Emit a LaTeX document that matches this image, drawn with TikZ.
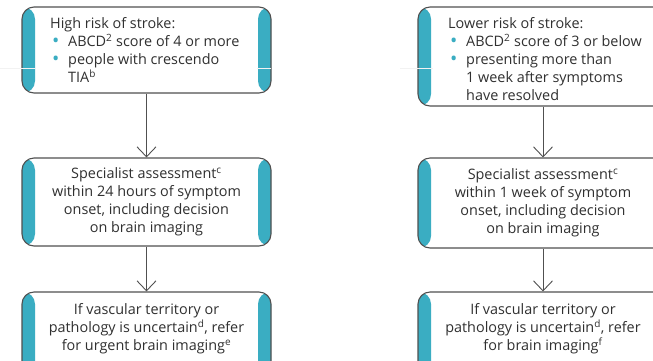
\documentclass[tikz,border=0pt]{standalone}
\usepackage{fontspec}
\setmainfont{Open Sans}
\usetikzlibrary{arrows.meta}
\definecolor{band}{HTML}{3AADC2}
\definecolor{edge}{HTML}{505050}
\definecolor{ink}{HTML}{303030}
\newcommand{\bul}{\makebox[18pt][l]{\hspace{2pt}\textcolor{band}{\raisebox{-0.6pt}{\scalebox{1.35}{\textbullet}}}}}
\newcommand{\cont}{\hspace{18pt}}
\tikzset{
  bandbox/.style={draw=edge, line width=1.1pt, fill=white, rounded corners=12pt,
    inner sep=0pt,
    path picture={
      \fill[band] (path picture bounding box.north west) rectangle
        ([xshift=13pt]path picture bounding box.south west);
      \fill[band] (path picture bounding box.north east) rectangle
        ([xshift=-13pt]path picture bounding box.south east);
    }},
  label text/.style={font=\fontsize{14.4}{18}\selectfont, text=ink, inner sep=0pt},
  flow/.style={draw=edge, line width=0.9pt, -{Straight Barb[length=10pt,width=19pt,line width=0.9pt]}},
  scanline/.style={draw=gray!10, line width=0.6pt}
}
\begin{document}
\begin{tikzpicture}[x=1pt,y=-1pt]
\useasboundingbox (0,0) rectangle (653,360);

% boxes
\node[bandbox, minimum width=249pt, minimum height=86pt] (hi) at (146.5,50) {};
\node[bandbox, minimum width=250pt, minimum height=99pt] (lo) at (543,56.5) {};
\node[bandbox, minimum width=249pt, minimum height=88pt] (hiA) at (146.5,202) {};
\node[bandbox, minimum width=250pt, minimum height=90pt] (loA) at (543,203) {};
\node[bandbox, minimum width=249pt, minimum height=90pt] (hiB) at (146.5,337) {};
\node[bandbox, minimum width=250pt, minimum height=90pt] (loB) at (543,337) {};

% faint horizontal rule crossing the side bands
\draw[scanline] (0,68) -- (35,68);
\draw[scanline] (257,68) -- (271,68);
\draw[scanline] (400,68) -- (433,68);

% texts
\node[label text, anchor=north west, align=left] (hiT) at (50,17.5) {%
High risk of stroke:\\
\bul ABCD\textsuperscript{2} score of 4 or more\\
\bul people with crescendo\\
\cont TIA\textsuperscript{b}};
\node[label text, anchor=north west, align=left] (loT) at (448,17.5) {%
Lower risk of stroke:\\
\bul ABCD\textsuperscript{2} score of 3 or below\\
\bul presenting more than\\
\cont 1 week after symptoms\\
\cont have resolved};
\node[label text, align=center] (hiAT) at (146.5,202) {%
Specialist assessment\textsuperscript{c}\\
within 24 hours of symptom\\
onset, including decision\\
on brain imaging};
\node[label text, align=center] (loAT) at (543,203) {%
Specialist assessment\textsuperscript{c}\\
within 1 week of symptom\\
onset, including decision\\
on brain imaging};
\node[label text, anchor=north, align=center] (hiBT) at (146.5,303) {%
If vascular territory or\\
pathology is uncertain\textsuperscript{d}, refer\\
for urgent brain imaging\textsuperscript{e}};
\node[label text, anchor=north, align=center] (loBT) at (543,303) {%
If vascular territory or\\
pathology is uncertain\textsuperscript{d}, refer\\
for brain imaging\textsuperscript{f}};

% connectors
\draw[flow] (hi.south) -- (hiA.north);
\draw[flow] (lo.south) -- (loA.north);
\draw[flow] (hiA.south) -- (hiB.north);
\draw[flow] (loA.south) -- (loB.north);
\end{tikzpicture}
\end{document}
